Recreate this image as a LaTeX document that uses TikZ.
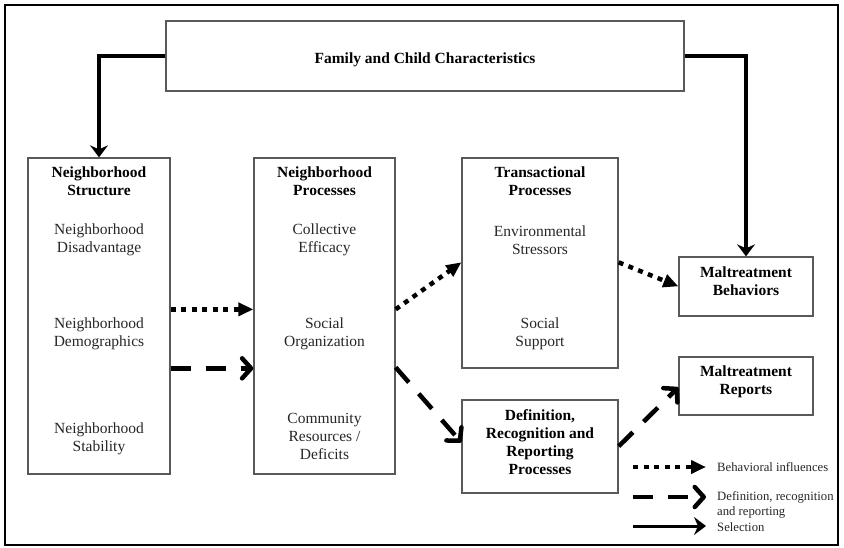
\documentclass[tikz,border=0pt]{standalone}
\usepackage{fontspec}
\setmainfont{Liberation Serif}
\usetikzlibrary{arrows.meta}
\tikzset{
  box/.style={draw=black!65, line width=1.3pt, inner sep=0pt},
  txt/.style={inner sep=0pt, align=center, font=\fontsize{15.5}{18}\selectfont, text=black!85},
  ttl/.style={inner sep=0pt, align=center, font=\fontsize{15.5}{18}\selectfont\bfseries},
  legtxt/.style={inner sep=0pt, align=left, anchor=west, font=\fontsize{12.7}{15}\selectfont, text=black!85},
  dotarrow/.style={line width=4.5pt, dash pattern=on 5pt off 5.5pt, -{Triangle[length=15pt,width=13pt]}},
  dasharrow/.style={line width=4.5pt, dash pattern=on 20pt off 15pt, -{Straight Barb[length=9pt,width=20pt,round]}},
  selarrow/.style={line width=3.5pt, -{Stealth[length=12pt,width=18pt,inset=4pt]}},
}
\begin{document}
\begin{tikzpicture}[x=1pt,y=-1pt]
\useasboundingbox (0,0) rectangle (844,547);
\draw[line width=2pt] (5,5) rectangle (838,545);
% boxes
\node[box, minimum width=518pt, minimum height=70pt] (fam) at (425,56) {};
\node[box, minimum width=142pt, minimum height=316pt] (ns) at (99,316) {};
\node[box, minimum width=141pt, minimum height=316pt] (np) at (324.5,316) {};
\node[box, minimum width=156pt, minimum height=210pt] (tp) at (540,263) {};
\node[box, minimum width=156pt, minimum height=93pt] (dr) at (540,446.5) {};
\node[box, minimum width=134pt, minimum height=59pt] (mb) at (746,286.5) {};
\node[box, minimum width=134pt, minimum height=58pt] (mr) at (746,386) {};
% box texts
\node[ttl] (famt) at (425,60) {Family and Child Characteristics};
\node[ttl] (drt) at (540,442) {Definition,\\Recognition and\\Reporting\\Processes};
\node[ttl] (mbt) at (746,281.5) {Maltreatment\\Behaviors};
\node[ttl] (mrt) at (746,381.5) {Maltreatment\\Reports};
\node[ttl] (nst) at (99,181) {Neighborhood\\Structure};
\node[txt] (ns1) at (99,240) {Neighborhood\\Disadvantage};
\node[txt] (ns2) at (99,333.5) {Neighborhood\\Demographics};
\node[txt] (ns3) at (99,438.5) {Neighborhood\\Stability};
\node[ttl] (npt) at (324.5,181) {Neighborhood\\Processes};
\node[txt] (np1) at (324.5,240) {Collective\\Efficacy};
\node[txt] (np2) at (324.5,333.5) {Social\\Organization};
\node[txt] (np3) at (324.5,436) {Community\\Resources /\\Deficits};
\node[ttl] (tpt) at (540,181) {Transactional\\Processes};
\node[txt] (tp1) at (540,240) {Environmental\\Stressors};
\node[txt] (tp2) at (540,333.5) {Social\\Support};
% selection arrows
\draw[selarrow] (fam.west) -| (ns.north);
\draw[selarrow] (fam.east) -| (mb.north);
% behavioral influences
\draw[dotarrow] ([yshift=-152pt]ns.north east) -- ([yshift=-152pt]np.north west);
\draw[dotarrow] ([yshift=-152pt]np.north east) -- ([yshift=-105pt]tp.north west);
\draw[dotarrow] ([yshift=-105pt]tp.north east) -- ([yshift=-30pt]mb.north west);
% definition / reporting
\draw[dasharrow] ([yshift=-211pt]ns.north east) -- ([yshift=-211pt]np.north west);
\draw[dasharrow] ([yshift=-210pt]np.north east) -- ([yshift=-43pt]dr.north west);
\draw[dasharrow] ([yshift=-47pt]dr.north east) -- ([yshift=-31pt]mr.north west);
% legend
\coordinate (l1a) at (633,467); \coordinate (l1b) at (706,467);
\coordinate (l2a) at (633,497); \coordinate (l2b) at (706,497);
\coordinate (l3a) at (633,526); \coordinate (l3b) at (706,526);
\draw[dotarrow] (l1a) -- (l1b);
\draw[dasharrow] (l2a) -- (l2b);
\draw[selarrow, line width=3pt] (l3a) -- (l3b);
\node[legtxt] (lg1) at (717,467) {Behavioral influences};
\node[legtxt] (lg2) at (717,504.5) {Definition, recognition\\and reporting};
\node[legtxt] (lg3) at (717,527) {Selection};
\end{tikzpicture}
\end{document}
